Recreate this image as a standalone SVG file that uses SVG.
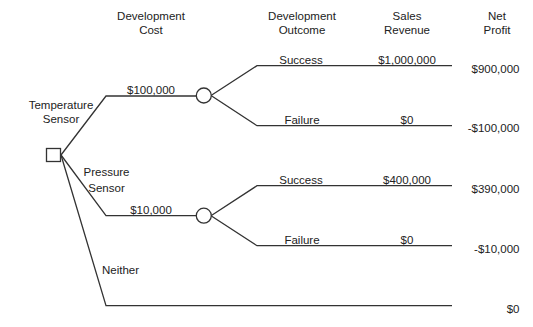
<svg xmlns="http://www.w3.org/2000/svg" width="533" height="327" viewBox="0 0 533 327">
<style>
text{font-family:"Liberation Sans",Arial,sans-serif;font-size:11.5px;fill:#222}
.c{text-anchor:middle}
.r{text-anchor:end}
.ln{fill:none;stroke:#333;stroke-width:1.3}
.nd{fill:#fff;stroke:#333;stroke-width:1.3}
</style>
<rect width="533" height="327" fill="#fff"/>
<g id="headers">
<text class="c" x="151" y="19.5">Development</text>
<text class="c" x="151" y="33.5">Cost</text>
<text class="c" x="302" y="19.5">Development</text>
<text class="c" x="302" y="33.5">Outcome</text>
<text class="c" x="407" y="19.5">Sales</text>
<text class="c" x="407" y="33.5">Revenue</text>
<text class="c" x="497" y="19.5">Net</text>
<text class="c" x="497" y="33.5">Profit</text>
</g>
<g id="connectors">
<polyline class="ln" points="61,155 106,96 196.5,96"/>
<polyline class="ln" points="61,155 106,215.7 196.5,215.7"/>
<polyline class="ln" points="61,155 106,305.7 452,305.7"/>
<polyline class="ln" points="211,95.5 257,65.7 452,65.7"/>
<polyline class="ln" points="211,95.5 257,125.7 452,125.7"/>
<polyline class="ln" points="211,215.7 257,185.7 452,185.7"/>
<polyline class="ln" points="211,215.7 257,245.7 452,245.7"/>
</g>
<g id="decision">
<rect class="nd" x="46.5" y="148.5" width="14" height="13"/>
</g>
<g id="chance1">
<circle class="nd" cx="203.8" cy="95.5" r="7.5"/>
</g>
<g id="chance2">
<circle class="nd" cx="203.8" cy="215.7" r="7.5"/>
</g>
<g id="labels">
<text class="c" x="61" y="108.5">Temperature</text>
<text class="c" x="61" y="123">Sensor</text>
<text class="c" x="106.5" y="176">Pressure</text>
<text class="c" x="106.5" y="192">Sensor</text>
<text x="102" y="273.5">Neither</text>
<text class="c" x="151" y="93.5">$100,000</text>
<text class="c" x="151" y="213.5">$10,000</text>
<text class="c" x="301" y="63.5">Success</text>
<text class="c" x="302" y="123.5">Failure</text>
<text class="c" x="301" y="183.5">Success</text>
<text class="c" x="302" y="243.5">Failure</text>
<text class="c" x="407" y="63.5">$1,000,000</text>
<text class="c" x="407" y="123.5">$0</text>
<text class="c" x="407" y="183.5">$400,000</text>
<text class="c" x="407" y="243.5">$0</text>
<text class="r" x="519.5" y="72.5">$900,000</text>
<text class="r" x="519.5" y="132">-$100,000</text>
<text class="r" x="519.5" y="192.5">$390,000</text>
<text class="r" x="519.5" y="252.5">-$10,000</text>
<text class="r" x="519.5" y="312.5">$0</text>
</g>
</svg>
